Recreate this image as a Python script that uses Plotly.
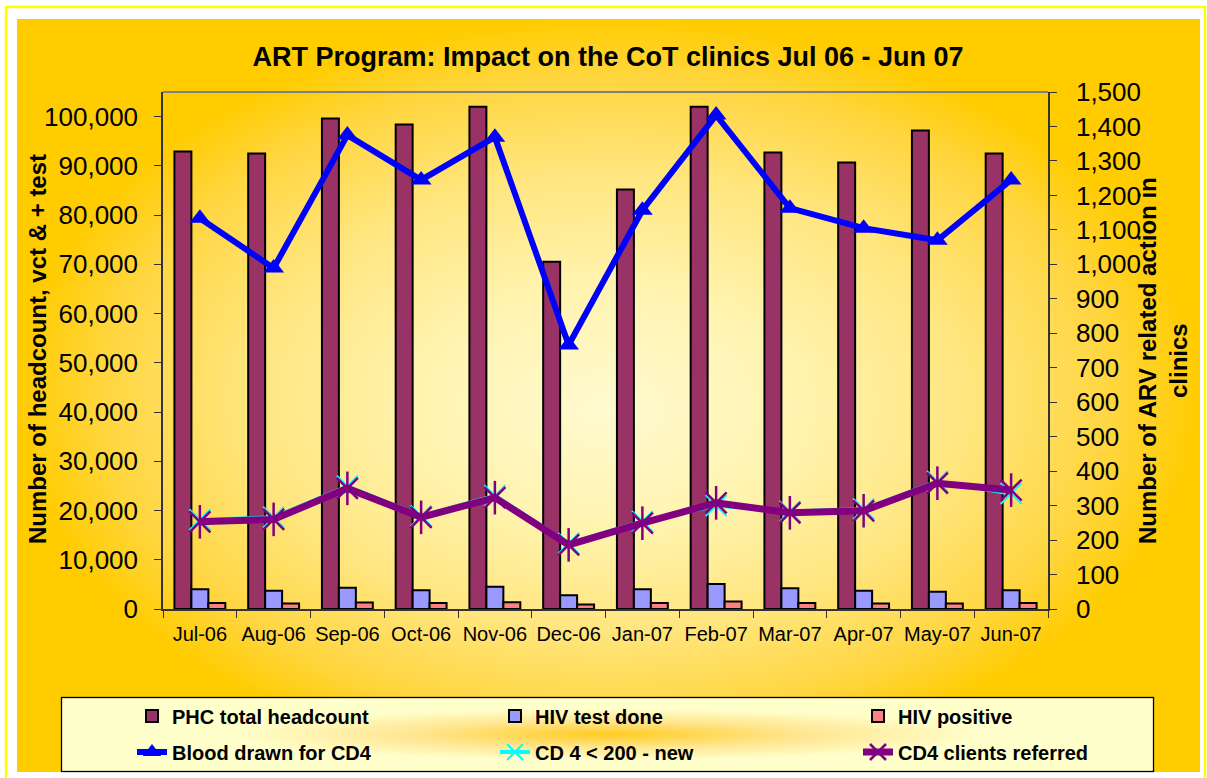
import base64
import plotly.graph_objects as go

months = ["Jul-06", "Aug-06", "Sep-06", "Oct-06", "Nov-06", "Dec-06",
          "Jan-07", "Feb-07", "Mar-07", "Apr-07", "May-07", "Jun-07"]
phc_headcount = [92900, 92500, 99600, 98400, 102000, 70500, 85200, 102000, 92700, 90700, 97200, 92500]
hiv_test_done = [4000, 3700, 4300, 3800, 4500, 2800, 4000, 5100, 4200, 3700, 3500, 3800]
hiv_positive = [1200, 1100, 1300, 1200, 1350, 900, 1200, 1500, 1200, 1100, 1100, 1200]
blood_drawn_cd4 = [1134, 989, 1375, 1245, 1369, 766, 1157, 1433, 1163, 1105, 1070, 1245]
cd4_below_200_new = [259, 266, 356, 270, 329, 190, 254, 300, 283, 290, 370, 335]
cd4_clients_referred = [253, 260, 350, 266, 323, 186, 249, 308, 279, 285, 365, 345]

W, H = 1207, 778
L, R, T, B = 163, 1048, 92, 609
PW, PH = R - L, B - T

FONT = "Liberation Sans, Arial, sans-serif"

svg = f'''<svg xmlns="http://www.w3.org/2000/svg" width="{W}" height="{H}" viewBox="0 0 {W} {H}">
<defs>
<radialGradient id="bg" cx="0.5" cy="0.5" r="0.5" fx="0.5" fy="0.52">
<stop offset="0" stop-color="#FFFAD0"/>
<stop offset="0.3" stop-color="#FFF4B2"/>
<stop offset="0.6" stop-color="#FFE680"/>
<stop offset="0.85" stop-color="#FFD640"/>
<stop offset="1" stop-color="#FFCC00"/>
</radialGradient>
<radialGradient id="lg" cx="0.5" cy="0.5" r="0.5">
<stop offset="0" stop-color="#FFCC22"/>
<stop offset="0.35" stop-color="#FFE690"/>
<stop offset="0.7" stop-color="#FFFFCC"/>
<stop offset="1" stop-color="#FFFFCC"/>
</radialGradient>
</defs>
<rect x="0" y="0" width="{W}" height="{H}" fill="#FFFFFF"/>
<rect x="6" y="7" width="1199" height="790" fill="#FFFFFF" stroke="#FFFF00" stroke-width="2.5"/>
<rect x="17" y="19" width="1183" height="753" fill="url(#bg)"/>
<rect x="61.5" y="697.5" width="1092" height="74" fill="url(#lg)" stroke="#000000" stroke-width="1.3"/>
</svg>'''
src = "data:image/svg+xml;base64," + base64.b64encode(svg.encode()).decode()

fig = go.Figure()

fig.add_trace(go.Bar(x=months, y=phc_headcount, name="PHC total headcount",
                     marker=dict(color="#993366", line=dict(color="#000000", width=2)),
                     legend="legend"))
fig.add_trace(go.Bar(x=months, y=hiv_test_done, name="HIV test done",
                     marker=dict(color="#9999FF", line=dict(color="#000000", width=2)),
                     legend="legend2"))
fig.add_trace(go.Bar(x=months, y=hiv_positive, name="HIV positive",
                     marker=dict(color="#FF8080", line=dict(color="#000000", width=2)),
                     legend="legend3"))

fig.add_trace(go.Scatter(x=months, y=blood_drawn_cd4, name="Blood drawn for CD4", yaxis="y2",
                         mode="lines+markers", line=dict(color="#0000FF", width=6),
                         marker=dict(symbol="triangle-up", size=18, color="#0000FF"),
                         legend="legend4"))
fig.add_trace(go.Scatter(x=months, y=cd4_below_200_new, name="CD 4 < 200 - new", yaxis="y2",
                         mode="lines+markers", line=dict(color="#00FFFF", width=4),
                         marker=dict(symbol="x-thin-open", size=21, color="#00FFFF",
                                     line=dict(color="#00FFFF", width=2)),
                         legend="legend5"))
fig.add_trace(go.Scatter(x=months, y=cd4_clients_referred, name="CD4 clients referred", yaxis="y2",
                         mode="lines+markers", line=dict(color="#800080", width=7),
                         marker=dict(symbol="x-thin-open", size=21, color="#800080",
                                     line=dict(color="#800080", width=2.5)),
                         legend="legend6"))
fig.add_trace(go.Scatter(x=months, y=cd4_clients_referred, yaxis="y2", showlegend=False,
                         mode="markers", hoverinfo="skip",
                         marker=dict(symbol="line-ns-open", size=24, color="#800080",
                                     line=dict(color="#800080", width=2.5))))


def px_x(px):
    return (px - L) / PW


def px_y(py):
    return (B - py) / PH


def leg(px, py):
    return dict(x=px_x(px), y=px_y(py), orientation="v",
                bgcolor="rgba(0,0,0,0)", borderwidth=0,
                font=dict(family=FONT, size=20, color="#000000", weight="bold"),
                xanchor="left", yanchor="middle")


fig.update_layout(
    width=W, height=H,
    margin=dict(l=L, r=W - R, t=T, b=H - B, autoexpand=False),
    paper_bgcolor="#FFFFFF", plot_bgcolor="rgba(0,0,0,0)",
    barmode="group", bargap=0.31, bargroupgap=0,
    font=dict(family=FONT, color="#000000"),
    title=dict(text="<b>ART Program: Impact on the CoT clinics Jul 06 - Jun 07</b>",
               x=608 / W, xanchor="center", y=1 - 57 / H, yanchor="middle",
               font=dict(family=FONT, size=27, color="#000000")),
    xaxis=dict(type="category", range=[-0.5, 11.5], showline=True, linecolor="#333333",
               linewidth=1.5, ticks="outside", ticklen=7, tickcolor="#333333",
               tickson="boundaries", tickangle=0,
               tickfont=dict(family=FONT, size=20, color="#000000"),
               ticklabelstandoff=6, showgrid=False, zeroline=False),
    yaxis=dict(range=[0, 105000], dtick=10000, tickformat=",", showline=True,
               linecolor="#333333", linewidth=1.5, ticks="outside", ticklen=7,
               tickcolor="#333333", tickfont=dict(family=FONT, size=26, color="#000000"),
               ticklabelstandoff=11, showgrid=False, zeroline=False),
    yaxis2=dict(range=[0, 1500], dtick=100, tickformat=",", overlaying="y", side="right",
                showline=True, linecolor="#333333", linewidth=1.5, ticks="outside",
                ticklen=7, tickcolor="#333333",
                tickfont=dict(family=FONT, size=26, color="#000000"),
                ticklabelstandoff=14, showgrid=False, zeroline=False),
    legend=leg(132, 716),
    legend2=leg(495, 716),
    legend3=leg(858, 716),
    legend4=leg(132, 752),
    legend5=leg(495, 752),
    legend6=leg(858, 752),
    images=[dict(source=src, xref="paper", yref="paper",
                 x=-L / PW, y=B / PH, sizex=W / PW, sizey=H / PH,
                 xanchor="left", yanchor="top", sizing="stretch", layer="below")],
    shapes=[dict(type="line", xref="paper", yref="paper", x0=0, x1=1, y0=1, y1=1,
                 line=dict(color="#808080", width=2))],
    annotations=[
        dict(text="<b>Number of headcount, vct & + test</b>", xref="paper", yref="paper",
             x=px_x(37), y=px_y(349), textangle=-90, showarrow=False,
             xanchor="center", yanchor="middle",
             font=dict(family=FONT, size=24, color="#000000")),
        dict(text="<b>Number of ARV related action in<br>clinics</b>", xref="paper", yref="paper",
             x=px_x(1163), y=px_y(361), textangle=-90, showarrow=False,
             xanchor="center", yanchor="middle",
             font=dict(family=FONT, size=24, color="#000000")),
    ],
    showlegend=True,
)

fig.write_html("out.html", config={"displayModeBar": False},
               post_script="document.body.style.margin='0';document.body.style.padding='0';")
